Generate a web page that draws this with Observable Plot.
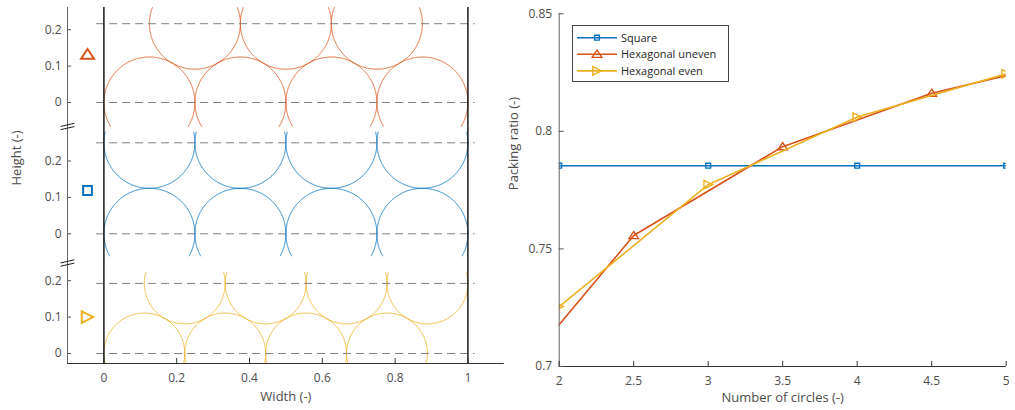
<!DOCTYPE html>
<html><head><meta charset="utf-8">
<script src="https://cdn.jsdelivr.net/npm/d3@7"></script>
<script src="https://cdn.jsdelivr.net/npm/@observablehq/plot@0.6"></script>
<style>
body{margin:0;background:#fff;}
#fig{position:relative;width:1015px;height:410px;font-family:"Open Sans",sans-serif;}
#left,#right,#legend{position:absolute;top:0;}
#left{left:0}
#right{left:510px}
#legend{left:572px;top:25px}
</style></head><body><div id="fig"><div id="left"></div><div id="right"></div><div id="legend"></div></div>
<script>
// ---------- data: left panel (circle centres, radii) ----------
const unevenCx = [0.125, 0.375, 0.625, 0.875, 0.25, 0.5, 0.75];
const unevenCy = [0, 0, 0, 0, 0.2165, 0.2165, 0.2165];
const unevenR = 0.125;
const squareCx = [0.125, 0.375, 0.625, 0.875, 0.125, 0.375, 0.625, 0.875];
const squareCy = [0, 0, 0, 0, 0.25, 0.25, 0.25, 0.25];
const squareR = 0.125;
const evenCx = [0.1111, 0.3333, 0.5556, 0.7778, 0.2222, 0.4444, 0.6667, 0.8889];
const evenCy = [0, 0, 0, 0, 0.1925, 0.1925, 0.1925, 0.1925];
const evenR = 0.1111;
const unevenDash = [0, 0.2165];
const squareDash = [0, 0.25];
const evenDash = [0, 0.1925];
const heightTicks = [0, 0.1, 0.2];
const widthTicks = [0, 0.2, 0.4, 0.6, 0.8, 1];
const symbolHeights = [0.132, 0.119, 0.1];

// ---------- data: right panel ----------
const seriesNames = ["Square", "Hexagonal uneven", "Hexagonal even"];
const nSquare = [2, 3, 4, 5];
const ratioSquare = [0.7854, 0.7854, 0.7854, 0.7854];
const nUneven = [1.5, 2.5, 3.5, 4.5, 5.5];
const ratioUneven = [0.680, 0.7557, 0.7935, 0.8162, 0.8313];
const nEven = [2, 3, 4, 5];
const ratioEven = [0.7255, 0.7773, 0.8061, 0.8245];
const circleTicks = [2, 2.5, 3, 3.5, 4, 4.5, 5];
const ratioTicks = [0.7, 0.75, 0.8, 0.85];

// ---------- styles ----------
const BLUE = "#0072BD", RED = "#D95319", YEL = "#EDB120";
const TXT = "#4d4d4d";
const FONT = "Open Sans, sans-serif";

// custom marker symbols
const triUp = {draw(c, s){const r=Math.sqrt(s/Math.PI); c.moveTo(0,-0.85*r); c.lineTo(r,0.65*r); c.lineTo(-r,0.65*r); c.closePath();}};
const triRight = {draw(c, s){const r=Math.sqrt(s/Math.PI); c.moveTo(0.85*r,0); c.lineTo(-0.85*r,-0.85*r); c.lineTo(-0.85*r,0.85*r); c.closePath();}};
const sq = {draw(c, s){const r=Math.sqrt(s/Math.PI); c.rect(-r,-r,2*r,2*r);}};

// ---------- left chart layout ----------
const Y0 = -0.0275, Y1 = 0.9505;
const panels = [
  {cx: unevenCx, cy: unevenCy, r: unevenR, dash: unevenDash, color: RED, off: 0.6895, lo: -0.066, hi: 0.261, sym: triUp, sr: 6.5},
  {cx: squareCx, cy: squareCy, r: squareR, dash: squareDash, color: BLUE, off: 0.3288, lo: -0.061, hi: 0.2797, sym: sq, sr: 4.4},
  {cx: evenCx, cy: evenCy, r: evenR, dash: evenDash, color: YEL, off: 0, lo: Y0, hi: 0.2225, sym: triRight, sr: 6.8}
];
const breaks = [0.6236, 0.2486];

const leftMarks = [];
panels.forEach((p, pi) => {
  const pts = [];
  p.cx.forEach((cx, i) => {
    const cy = p.cy[i];
    for (let k = 0; k <= 1440; k++) {
      const a = k / 1440 * 2 * Math.PI;
      const x = cx + p.r * Math.cos(a), y = cy + p.r * Math.sin(a);
      pts.push({x, Y: (y >= p.lo && y <= p.hi) ? y + p.off : NaN, id: pi + "-" + i});
    }
  });
  leftMarks.push(Plot.line(pts, {x: "x", y: "Y", z: "id", stroke: p.color, strokeWidth: 0.9}));
  leftMarks.push(Plot.ruleY(p.dash.map(d => d + p.off), {x1: -0.02, x2: 1.02, stroke: "#808080", strokeWidth: 1, strokeDasharray: "8,5"}));
  leftMarks.push(Plot.text(heightTicks.map(t => ({Y: t + p.off, t})), {x: -0.1, y: "Y", text: d => String(d.t), textAnchor: "end", dx: -6, fill: TXT, fontSize: 12}));
  leftMarks.push(Plot.ruleY(heightTicks.map(t => t + p.off), {x1: -0.1, x2: -0.1 + 4/364, stroke: "#555"}));
  leftMarks.push(Plot.dot([{x: -0.045, Y: symbolHeights[pi] + p.off}], {x: "x", y: "Y", r: p.sr, symbol: p.sym, stroke: p.color, strokeWidth: 2, fill: "none"}));
});

const breakLines = [];
breaks.forEach((b, i) => {
  [-0.0045, 0.0045].forEach((d, j) => {
    breakLines.push({x: -0.118, Y: b + d - 0.004, id: i + "-" + j});
    breakLines.push({x: -0.082, Y: b + d + 0.004, id: i + "-" + j});
  });
});

const left = Plot.plot({
  width: 510, height: 410, marginLeft: 67, marginRight: 6.2, marginTop: 7, marginBottom: 47,
  x: {domain: [-0.1, 1.1], axis: null},
  y: {domain: [Y0, Y1], axis: null},
  style: {fontFamily: FONT, fontSize: "12px", background: "transparent", overflow: "visible"},
  marks: [
    ...leftMarks,
    Plot.ruleX([0, 1], {y1: Y0, y2: Y1, stroke: "#1a1a1a", strokeWidth: 1.5}),
    Plot.ruleX([-0.1], {y1: Y0, y2: Y1, stroke: "#666", strokeWidth: 1}),
    Plot.ruleY([Y0], {x1: -0.1, x2: 1.1, stroke: "#333", strokeWidth: 1}),
    Plot.ruleX(widthTicks, {y1: Y0, y2: Y0 + 5/364, stroke: "#333"}),
    Plot.line(breakLines, {x: "x", y: "Y", z: "id", stroke: "#222", strokeWidth: 1}),
    Plot.text(widthTicks, {x: d => d, y: Y0, text: d => String(d), dy: 15, fill: TXT, fontSize: 12}),
    Plot.text(["Width (-)"], {frameAnchor: "bottom", dy: 37, fill: TXT, fontSize: 13}),
    Plot.text(["Height (-)"], {frameAnchor: "left", dx: -51, rotate: -90, fill: TXT, fontSize: 13})
  ]
});
document.getElementById("left").appendChild(left);

// ---------- right chart ----------
const sqData = nSquare.map((n, i) => ({n, p: ratioSquare[i]}));
const unData = nUneven.map((n, i) => ({n, p: ratioUneven[i]}));
const evData = nEven.map((n, i) => ({n, p: ratioEven[i]}));

const right = Plot.plot({
  width: 505, height: 410, marginLeft: 48.7, marginRight: 9.3, marginTop: 13.3, marginBottom: 44,
  x: {domain: [2, 5], axis: null},
  y: {domain: [0.7, 0.85], axis: null},
  style: {fontFamily: FONT, fontSize: "12px", background: "transparent", overflow: "visible"},
  marks: [
    Plot.line(sqData, {x: "n", y: "p", stroke: BLUE, strokeWidth: 1.6, clip: true}),
    Plot.dot(sqData, {x: "n", y: "p", symbol: sq, r: 2.4, stroke: BLUE, strokeWidth: 1.4, fill: "none", clip: true}),
    Plot.line(unData, {x: "n", y: "p", stroke: RED, strokeWidth: 1.6, clip: true}),
    Plot.dot(unData, {x: "n", y: "p", symbol: triUp, r: 4.8, stroke: RED, strokeWidth: 1.4, fill: "none", clip: true}),
    Plot.line(evData, {x: "n", y: "p", stroke: YEL, strokeWidth: 1.6, clip: true}),
    Plot.dot(evData, {x: "n", y: "p", symbol: triRight, r: 5, stroke: YEL, strokeWidth: 1.4, fill: "none", clip: true}),
    Plot.ruleX([2], {y1: 0.7, y2: 0.85, stroke: "#666"}),
    Plot.ruleY([0.7], {x1: 2, x2: 5, stroke: "#333"}),
    Plot.ruleX(circleTicks, {y1: 0.7, y2: 0.7 + 5 * 0.15 / 352.7, stroke: "#333"}),
    Plot.ruleY(ratioTicks, {x1: 2, x2: 2 + 5 * 3 / 447, stroke: "#555"}),
    Plot.text(circleTicks, {x: d => d, y: 0.7, text: d => String(d), dy: 15, fill: TXT, fontSize: 12}),
    Plot.text(ratioTicks, {x: 2, y: d => d, text: d => String(d), dx: -7, textAnchor: "end", fill: TXT, fontSize: 12}),
    Plot.text(["Number of circles (-)"], {frameAnchor: "bottom", dy: 35.5, fill: TXT, fontSize: 13}),
    Plot.text(["Packing ratio (-)"], {frameAnchor: "left", dx: -45.7, rotate: -90, fill: TXT, fontSize: 13})
  ]
});
document.getElementById("right").appendChild(right);

// ---------- legend ----------
const legendItems = [
  {name: seriesNames[0], color: BLUE, sym: sq, r: 2.4},
  {name: seriesNames[1], color: RED, sym: triUp, r: 4.8},
  {name: seriesNames[2], color: YEL, sym: triRight, r: 5}
];
const lg = d3.select("#legend").append("svg").attr("width", 158).attr("height", 58)
  .style("font-family", FONT).style("font-size", "11px");
lg.append("rect").attr("x", 0.5).attr("y", 0.5).attr("width", 156).attr("height", 56)
  .attr("fill", "#fff").attr("stroke", "#444").attr("stroke-width", 1);
legendItems.forEach((it, i) => {
  const y = 12.7 + i * 16.6;
  const g = lg.append("g");
  g.append("line").attr("x1", 5).attr("x2", 45).attr("y1", y).attr("y2", y).attr("stroke", it.color).attr("stroke-width", 1.6);
  g.append("path").attr("d", d3.symbol(it.sym, it.r * it.r * Math.PI)()).attr("transform", `translate(25,${y})`)
    .attr("fill", "none").attr("stroke", it.color).attr("stroke-width", 1.4);
  g.append("text").attr("x", 49).attr("y", y).attr("dy", "0.35em").attr("fill", "#262626").text(it.name);
});
</script></body></html>
